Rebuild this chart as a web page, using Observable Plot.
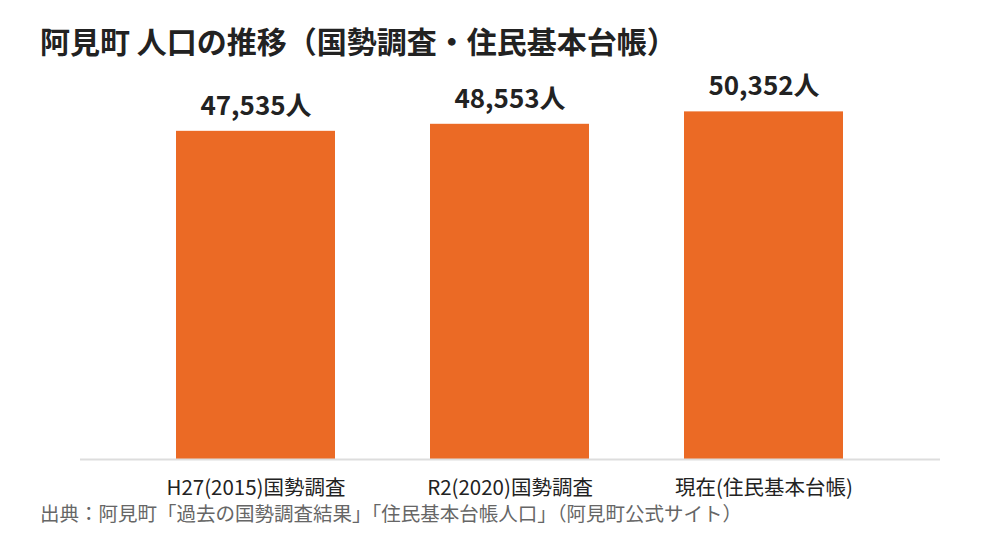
<!DOCTYPE html>
<html><head><meta charset="utf-8">
<script src="https://cdn.jsdelivr.net/npm/d3@7"></script>
<script src="https://cdn.jsdelivr.net/npm/@observablehq/plot@0.6"></script>
<style>
body{margin:0;background:#fff;font-family:"Noto Sans CJK JP","Noto Sans",sans-serif;width:1000px;height:560px;overflow:hidden}
#title{height:60px;box-sizing:border-box;padding:22px 0 0 40px;font-size:30px;font-weight:bold;color:#222;line-height:36px;white-space:nowrap}
#caption{padding-left:40px;font-size:19.5px;color:#666;line-height:20px;margin-top:0px;white-space:nowrap}
</style></head>
<body>
<div id="title">阿見町 人口の推移（国勢調査・住民基本台帳）</div>
<div id="chart"></div>
<div id="caption">出典：阿見町「過去の国勢調査結果」「住民基本台帳人口」（阿見町公式サイト）</div>
<script>
const categories = ["H27(2015)国勢調査", "R2(2020)国勢調査", "現在(住民基本台帳)"];
const population = [47535, 48553, 50352];
const data = categories.map((c, i) => ({category: c, value: population[i]}));
const chart = Plot.plot({
  width: 1000,
  height: 443,
  marginLeft: 80,
  marginRight: 60,
  marginTop: 40,
  marginBottom: 44,
  style: {fontFamily: '"Noto Sans CJK JP","Noto Sans",sans-serif', background: "#fff"},
  x: {domain: categories, padding: 0.373, label: null, tickSize: 0, tickPadding: 21},
  y: {domain: [0, 52000], axis: null},
  marks: [
    Plot.barY(data, {x: "category", y: "value", fill: "#EB6A25"}),
    Plot.ruleY([0], {stroke: "#dddddd", strokeWidth: 2}),
    Plot.text(data, {x: "category", y: "value", text: d => d3.format(",")(d.value) + "人", dy: -25, fontSize: 26, fontWeight: "bold", fill: "#222"}),
    Plot.axisX({tickSize: 0, tickPadding: 21, fontSize: 20.5, color: "#222", label: null})
  ]
});
document.getElementById("chart").appendChild(chart);
</script>
</body></html>
